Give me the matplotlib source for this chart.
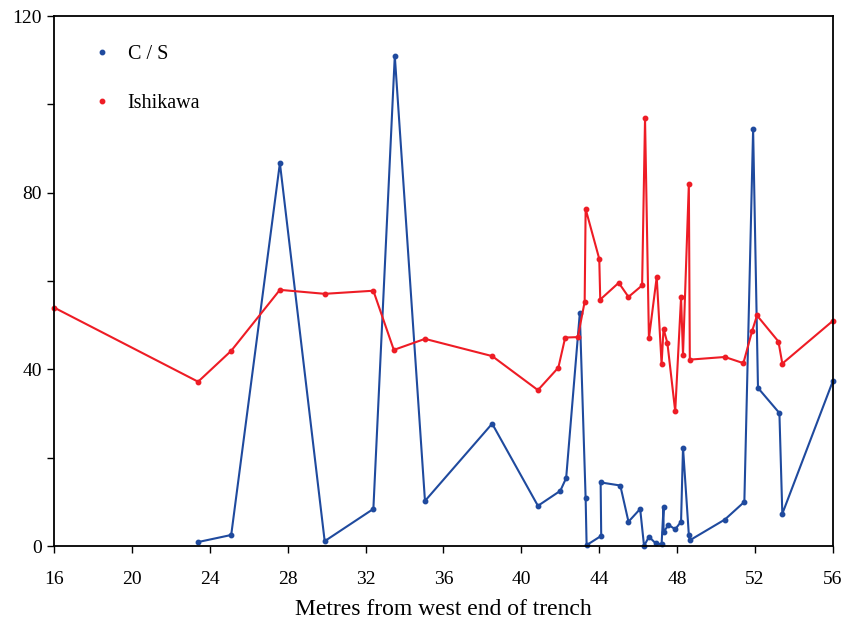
import numpy as np
import matplotlib.pyplot as plt

plt.rcParams['font.family'] = ['Liberation Serif', 'DejaVu Serif']

# C / S series
cs_x = [23.4, 25.1, 27.6, 29.9, 32.4, 33.5, 35.05, 38.5, 40.85, 42.0, 42.3, 43.0,
        43.3, 43.35, 44.1, 44.07, 45.08, 45.5, 46.1, 46.3, 46.55, 46.9, 47.2, 47.3,
        47.3, 47.55, 47.9, 48.2, 48.3, 48.6, 48.65, 50.45, 51.45, 51.9, 52.15, 53.25,
        53.4, 56.0]
cs_y = [0.9, 2.5, 86.7, 1.1, 8.4, 111.0, 10.2, 27.7, 9.1, 12.5, 15.4, 52.7,
        10.8, 0.2, 2.3, 14.4, 13.7, 5.5, 8.4, 0.0, 2.1, 0.6, 0.4, 8.8,
        3.1, 4.8, 3.8, 5.5, 22.3, 2.5, 1.3, 6.0, 10.0, 94.4, 35.8, 30.1,
        7.3, 37.4]

# Ishikawa series
ish_x = [16.0, 23.4, 25.1, 27.6, 29.9, 32.4, 33.45, 35.05, 38.5, 40.85, 41.9, 42.25,
         42.9, 43.25, 43.3, 44.0, 44.05, 45.0, 45.5, 46.2, 46.35, 46.55, 46.95, 47.2,
         47.3, 47.5, 47.9, 48.2, 48.3, 48.6, 48.65, 50.45, 51.4, 51.85, 52.1, 53.2,
         53.4, 56.0]
ish_y = [54.0, 37.2, 44.2, 58.0, 57.1, 57.8, 44.4, 46.9, 43.0, 35.3, 40.4, 47.2,
         47.3, 55.3, 76.3, 65.0, 55.8, 59.6, 56.4, 59.0, 96.8, 47.0, 60.9, 41.2,
         49.2, 45.9, 30.5, 56.3, 43.3, 82.0, 42.2, 42.8, 41.4, 48.7, 52.2, 46.3,
         41.3, 51.0]

xticks = list(range(16, 57, 4))
yticks = [0, 40, 80, 120]

blue = '#1f4a9e'
red = '#ee1c25'

fig = plt.figure(figsize=(8.49, 6.3), dpi=100)
ax = fig.add_axes([0.0636, 0.1333, 0.9175, 0.8413])

ax.plot(cs_x, cs_y, '-o', color=blue, lw=1.5, ms=3.2, label='C / S', clip_on=False)
ax.plot(ish_x, ish_y, '-o', color=red, lw=1.5, ms=3.2, label='Ishikawa', clip_on=False)

ax.set_xlim(16, 56)
ax.set_ylim(0, 120)
ax.set_xticks(xticks)
ax.set_yticks(yticks)
ax.set_yticks([20, 60, 100], minor=True)
ax.tick_params(axis='both', direction='out', length=5, width=1, labelsize=14)
ax.tick_params(axis='y', which='minor', direction='out', length=5, width=1)
ax.tick_params(axis='x', pad=13)
for s in ax.spines.values():
    s.set_linewidth(1.3)

ax.set_xlabel('Metres from west end of trench', fontsize=17, labelpad=8)

handles = [plt.Line2D([], [], marker='o', ls='', color=blue, ms=3.2),
           plt.Line2D([], [], marker='o', ls='', color=red, ms=3.2)]
ax.legend(handles, ['C / S', 'Ishikawa'], loc='upper left', frameon=False,
          fontsize=14.5, labelspacing=1.45, handlelength=1.0, handletextpad=0.75,
          bbox_to_anchor=(0.026, 0.979))

fig.savefig('out.png', dpi=100)
